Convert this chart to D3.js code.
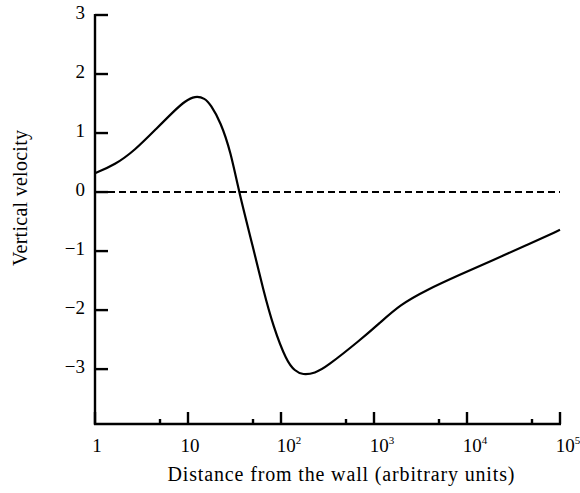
<!DOCTYPE html>
<html><head><meta charset="utf-8">
<script src="https://cdn.jsdelivr.net/npm/d3@7"></script>
<style>body{margin:0;background:#fff}svg{display:block}text{font-family:"Liberation Serif","Times New Roman",serif;fill:#000}</style>
</head><body>
<script>
const distance = [1, 1.64, 2.69, 4.42, 7.25, 9.3, 11.9, 15.2, 17.5, 22.4, 28.8, 35.3, 50, 64.5, 82.6, 115, 141, 171, 232, 309, 708, 1150, 1900, 3650, 8380, 19200, 43900, 100000];
const velocity = [0.32, 0.46, 0.71, 1.05, 1.39, 1.54, 1.63, 1.59, 1.48, 1.19, 0.68, 0, -0.93, -1.66, -2.28, -2.87, -3.03, -3.10, -3.07, -2.96, -2.51, -2.22, -1.91, -1.66, -1.40, -1.15, -0.90, -0.64];
const yTicks = [3, 2, 1, 0, -1, -2, -3];
const xMajor = [1, 10, 100, 1000, 10000, 100000];
const xMinor = [5, 50, 500, 5000, 50000];
const xLabels = [["1",""],["10",""],["10","2"],["10","3"],["10","4"],["10","5"]];

const W = 580, H = 493;
const svg = d3.select("body").append("svg").attr("width", W).attr("height", H);
const x = d3.scaleLog().domain([1, 100000]).range([95, 560]);
const y = d3.scaleLinear().domain([-3.93, 3]).range([424, 15]);

// zero dashed line
svg.append("line").attr("x1", x(1) + 2).attr("x2", x(100000)).attr("y1", y(0)).attr("y2", y(0))
  .attr("stroke", "#000").attr("stroke-width", 2).attr("stroke-dasharray", "7,4");

// curve
const line = d3.line().x((d,i) => x(distance[i])).y(d => y(d)).curve(d3.curveBasis);
svg.append("path").attr("d", line(velocity)).attr("fill", "none").attr("stroke", "#000").attr("stroke-width", 2.2);

// axes lines
const g = svg.append("g").attr("stroke", "#000").attr("stroke-width", 2.4);
g.append("line").attr("x1", x(1)).attr("x2", x(1)).attr("y1", y(3) - 1).attr("y2", y.range()[0] + 1);
g.append("line").attr("x1", x(1) - 1).attr("x2", x(100000) + 1).attr("y1", y.range()[0]).attr("y2", y.range()[0]);
yTicks.forEach(t => g.append("line").attr("x1", x(1)).attr("x2", x(1) + 13).attr("y1", y(t)).attr("y2", y(t)));
xMajor.forEach(t => g.append("line").attr("x1", x(t)).attr("x2", x(t)).attr("y1", y.range()[0]).attr("y2", y.range()[0] - 12));
xMinor.forEach(t => g.append("line").attr("x1", x(t)).attr("x2", x(t)).attr("y1", y.range()[0]).attr("y2", y.range()[0] - 5));

// y tick labels
yTicks.forEach(t => svg.append("text").attr("x", x(1) - 10).attr("y", y(t) + 4).attr("text-anchor", "end")
  .attr("font-size", 19).text(t < 0 ? "\u2212" + Math.abs(t) : String(t)));

// x tick labels
xMajor.forEach((t, i) => {
  const tx = svg.append("text").attr("x", x(t) + (xLabels[i][1] ? 8 : 2)).attr("y", 452).attr("text-anchor", "middle").attr("font-size", 19);
  tx.append("tspan").text(xLabels[i][0]);
  if (xLabels[i][1]) tx.append("tspan").attr("font-size", 11).attr("dy", -8).text(xLabels[i][1]);
});

// titles
svg.append("text").attr("x", 341).attr("y", 481).attr("text-anchor", "middle").attr("font-size", 20)
  .attr("textLength", 347).attr("lengthAdjust", "spacing")
  .text("Distance from the wall (arbitrary units)");
svg.append("text").attr("transform", "translate(27,198) rotate(-90)").attr("text-anchor", "middle").attr("font-size", 20)
  .attr("textLength", 136).attr("lengthAdjust", "spacing")
  .text("Vertical velocity");
</script>
</body></html>
